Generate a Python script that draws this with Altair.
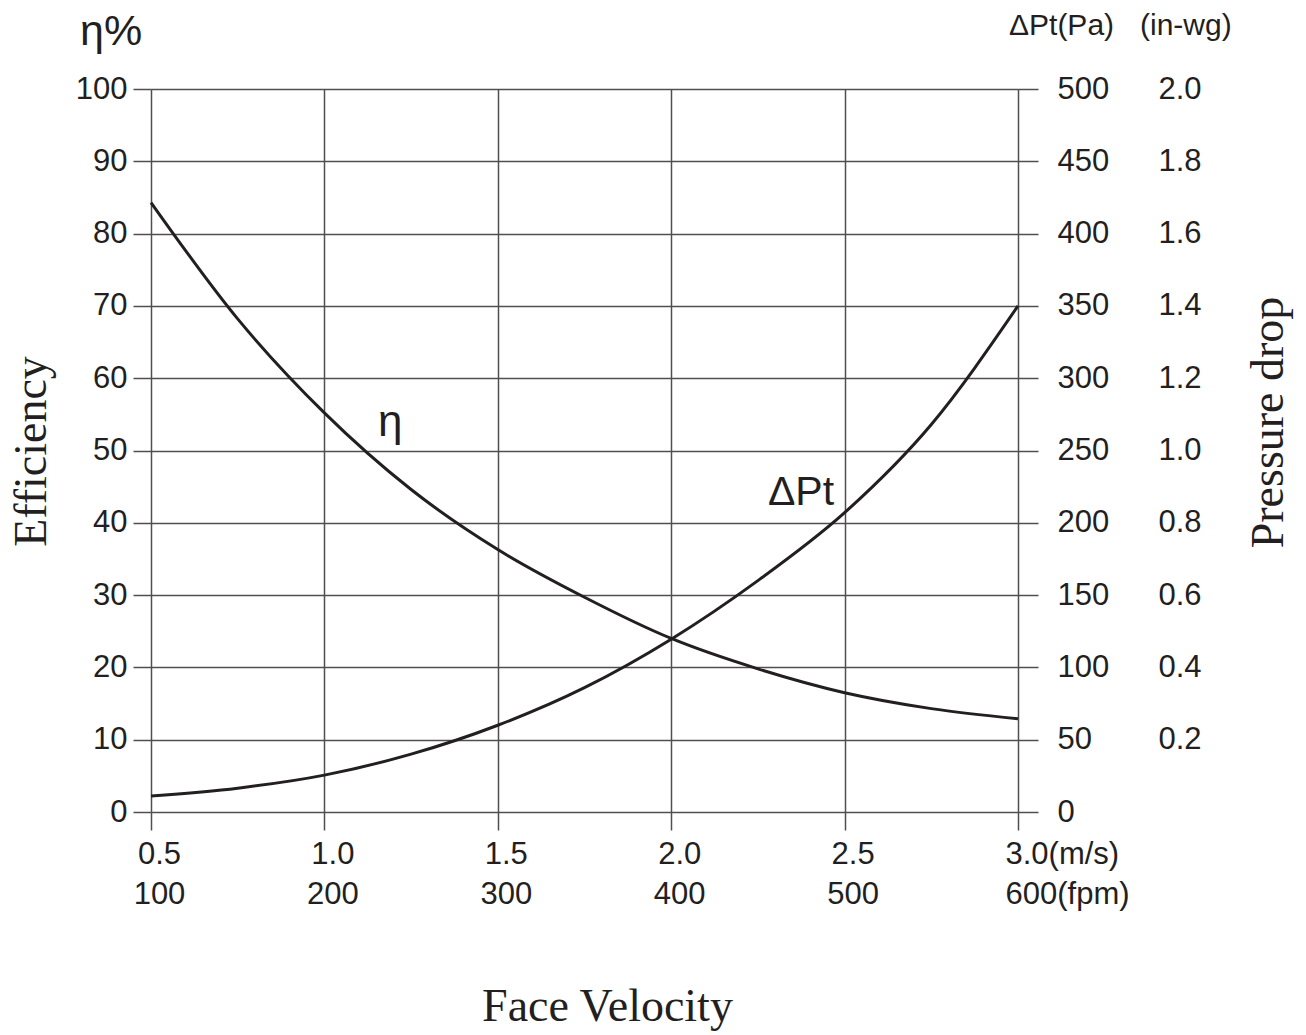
import altair as alt
import pandas as pd

# ---- data ----
velocity = [0.5, 0.75, 1.0, 1.25, 1.5, 1.75, 2.0, 2.25, 2.5, 2.75, 3.0]          # m/s
efficiency = [84.3, 68.2, 55.2, 44.6, 36.3, 29.7, 24.0, 19.8, 16.5, 14.3, 12.9]   # %
pressure_pa = [11, 16.5, 25.5, 40, 60, 86, 119.5, 160, 207, 268, 350]             # Pa

x_ticks = [0.5, 1.0, 1.5, 2.0, 2.5, 3.0]
ms_labels = ["0.5", "1.0", "1.5", "2.0", "2.5", "3.0(m/s)"]
fpm_labels = ["100", "200", "300", "400", "500", "600(fpm)"]
eff_ticks = [0, 10, 20, 30, 40, 50, 60, 70, 80, 90, 100]
pa_ticks = [0, 50, 100, 150, 200, 250, 300, 350, 400, 450, 500]
inwg_ticks = [0.2, 0.4, 0.6, 0.8, 1.0, 1.2, 1.4, 1.6, 1.8, 2.0]
inwg_labels = ["0.2", "0.4", "0.6", "0.8", "1.0", "1.2", "1.4", "1.6", "1.8", "2.0"]

INK = "#231f20"
GRID = "#4f4f4f"
SANS = "Liberation Sans"
SERIF = "Liberation Serif"

df = pd.DataFrame({"v": velocity, "eff": efficiency, "pa": pressure_pa})

# multi-line x labels built from the label lists
expr = "''"
for v, a, b in reversed(list(zip(x_ticks, ms_labels, fpm_labels))):
    expr = f"(abs(datum.value - {v}) < 1e-6 ? ['{a}', '{b}'] : {expr})"
inwg_expr = "''"
for v, a in reversed(list(zip(inwg_ticks, inwg_labels))):
    inwg_expr = f"(abs(datum.value - {v}) < 1e-6 ? '{a}' : {inwg_expr})"

xscale = alt.Scale(domain=[0.5, 3.0], nice=False, zero=False)
xaxis = alt.Axis(
    values=x_ticks, labelExpr=expr, labelFont=SANS, labelFontSize=31,
    labelColor=INK, labelLineHeight=40, labelBaseline="top", labelPadding=9,
    labelFlush=False, labelOverlap=False,
    labelAlign={"condition": {"test": "datum.value == 3", "value": "left"}, "value": "center"},
    labelOffset={"condition": {"test": "datum.value == 3", "value": -13}, "value": 8},
    tickSize=18, tickColor=GRID, tickWidth=1.5,
    grid=True, gridColor=GRID, gridWidth=1.5, gridOpacity=1, domain=False,
    title="Face Velocity", titleFont=SERIF, titleFontSize=46, titleFontWeight="normal",
    titleColor=INK, titleX=456, titleY=208, titleAlign="center", titleBaseline="alphabetic",
)
X = alt.X("v:Q", scale=xscale, axis=xaxis)

eff_scale = alt.Scale(domain=[0, 100], nice=False, zero=False)
pa_scale = alt.Scale(domain=[0, 500], nice=False, zero=False)
inwg_scale = alt.Scale(domain=[0, 2], nice=False, zero=False)

eff_axis = alt.Axis(
    orient="left", values=eff_ticks, labelFont=SANS, labelFontSize=31, labelColor=INK,
    labelPadding=6, tickSize=18, tickColor=GRID, tickWidth=1.5,
    grid=True, gridColor=GRID, gridWidth=1.5, gridOpacity=1, domain=False,
    title="Efficiency", titleFont=SERIF, titleFontSize=46, titleFontWeight="normal",
    titleColor=INK, titleAngle=270, titleX=-106, titleY=362, titleAlign="center",
    titleBaseline="alphabetic",
)
pa_axis = alt.Axis(
    orient="right", values=pa_ticks, labelFont=SANS, labelFontSize=31, labelColor=INK,
    labelPadding=19, tickSize=20, tickColor=GRID, tickWidth=1.5,
    grid=False, domain=False,
    title="Pressure drop", titleFont=SERIF, titleFontSize=46, titleFontWeight="normal",
    titleColor=INK, titleAngle=270, titleX=264, titleY=333, titleAlign="center",
    titleBaseline="alphabetic",
)
inwg_axis = alt.Axis(
    orient="right", values=inwg_ticks, labelExpr=inwg_expr, labelFont=SANS,
    labelFontSize=31, labelColor=INK, labelPadding=140, ticks=False,
    grid=False, domain=False, title="",
)

eff_line = alt.Chart(df).mark_line(color=INK, strokeWidth=3, interpolate="monotone").encode(
    x=X, y=alt.Y("eff:Q", scale=eff_scale, axis=eff_axis)
)
pa_line = alt.Chart(df).mark_line(color=INK, strokeWidth=3, interpolate="monotone").encode(
    x=X, y=alt.Y("pa:Q", scale=pa_scale, axis=pa_axis)
)
inwg_dummy = alt.Chart(pd.DataFrame({"w": inwg_ticks})).mark_point(opacity=0).encode(
    y=alt.Y("w:Q", scale=inwg_scale, axis=inwg_axis)
)

eff_lbl = alt.Chart(pd.DataFrame({"v": [1.19], "eff": [52.0], "t": ["η"]})).mark_text(
    font=SANS, fontSize=44, color=INK, align="center", baseline="alphabetic"
).encode(x=X, y=alt.Y("eff:Q", scale=eff_scale, axis=None), text="t:N")
pa_lbl = alt.Chart(pd.DataFrame({"v": [2.279], "pa": [212.0], "t": ["ΔPt"]})).mark_text(
    font=SANS, fontSize=41, color=INK, align="left", baseline="alphabetic"
).encode(x=X, y=alt.Y("pa:Q", scale=pa_scale, axis=None), text="t:N")

hdr_eta = alt.Chart(pd.DataFrame({"t": ["η%"]})).mark_text(
    font=SANS, fontSize=43, color=INK, align="left", baseline="alphabetic"
).encode(text="t:N", x=alt.value(-71), y=alt.value(-44))
hdr_pa = alt.Chart(pd.DataFrame({"t": ["ΔPt(Pa)"]})).mark_text(
    font=SANS, fontSize=30, color=INK, align="left", baseline="alphabetic"
).encode(text="t:N", x=alt.value(858), y=alt.value(-54))
hdr_wg = alt.Chart(pd.DataFrame({"t": ["(in-wg)"]})).mark_text(
    font=SANS, fontSize=30, color=INK, align="left", baseline="alphabetic"
).encode(text="t:N", x=alt.value(989), y=alt.value(-54))

chart = alt.layer(
    eff_line, pa_line, inwg_dummy, eff_lbl, pa_lbl, hdr_eta, hdr_pa, hdr_wg
).resolve_scale(y="independent").properties(
    width=867, height=723,
    autosize=alt.AutoSizeParams(type="none"),
    padding={"left": 143, "top": 81, "right": 280, "bottom": 222},
).configure_view(stroke=None).configure(background="white")

chart.save("out.html", embed_options={"renderer": "svg", "actions": False})
